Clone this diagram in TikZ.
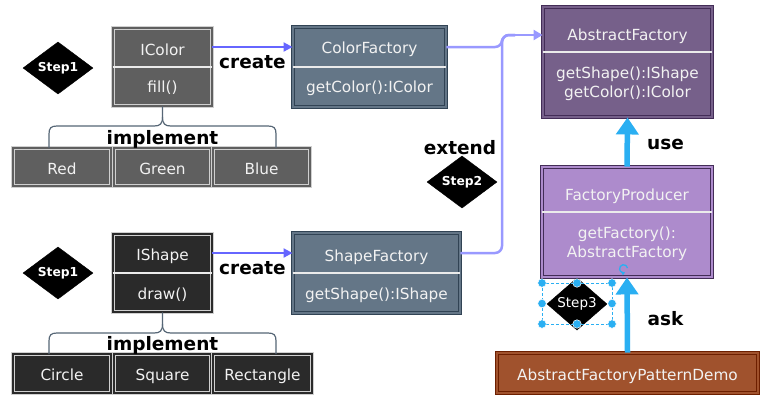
\documentclass[tikz,border=0pt]{standalone}
\usepackage{fontspec}
\setmainfont{DejaVu Sans}
\usetikzlibrary{shapes.geometric,arrows.meta}
\definecolor{grayfill}{HTML}{5F5F5F}
\definecolor{blackfill}{HTML}{2A2A2A}
\definecolor{lightborder}{HTML}{D0D0D0}
\definecolor{slatefill}{HTML}{647687}
\definecolor{slateborder}{HTML}{314354}
\definecolor{purplefill}{HTML}{76608A}
\definecolor{purpleborder}{HTML}{432D57}
\definecolor{lilacfill}{HTML}{AD8BCC}
\definecolor{siennafill}{HTML}{A0522D}
\definecolor{siennaborder}{HTML}{6D1F00}
\definecolor{createblue}{HTML}{6666FF}
\definecolor{extendblue}{HTML}{9999FF}
\definecolor{skyblue}{HTML}{2AAFF2}
\definecolor{bracecol}{HTML}{566676}
\definecolor{boxtext}{HTML}{F2F2F2}
\begin{document}
\begin{tikzpicture}[x=1pt,y=-1pt,
  cls/.style 2 args={rectangle, fill=#1, draw=#2, double=#1, double distance=1.6pt, line width=0.9pt, inner sep=0pt},
  ctext/.style={text=boxtext, font=\fontsize{15.3}{19}\selectfont, inner sep=0pt, anchor=base},
  lbl/.style={text=black, font=\fontsize{18.5}{22}\selectfont\bfseries, inner sep=0pt, anchor=base},
  stepd/.style={diamond, fill=black, draw=black, inner sep=0pt, text=white},
  divline/.style={draw=white!92!black, line width=1.4pt},
  createarrow/.style={draw=createblue, line width=2pt, -{Triangle[length=9pt,width=9pt]}},
  extendarrow/.style={draw=extendblue, line width=2.5pt, rounded corners=7pt},
  bigarrow/.style={draw=skyblue, line width=5.5pt, -{Triangle[length=17pt,width=22pt]}},
  bracepath/.style={draw=bracecol, line width=1.2pt},
  handle/.style={circle, fill=skyblue, draw=white, line width=0.5pt, minimum size=8.5pt, inner sep=0pt}
]
\useasboundingbox (0,0) rectangle (775,408);
\fill[white] (0,0) rectangle (775,408);

% ---------- IColor group ----------
\node[cls={grayfill}{lightborder}, minimum width=99pt, minimum height=78pt] (icolor) at (162.5,67) {};
\draw[divline] (icolor.west) -- (icolor.east);
\node[ctext] (icolorT) at (162.5,55) {IColor};
\node[ctext] (icolorM) at (162.5,92) {fill()};

\node[cls={grayfill}{lightborder}, minimum width=98pt, minimum height=38pt] (red) at (62,167) {};
\node[ctext] (redT) at (62,174) {Red};
\node[cls={grayfill}{lightborder}, minimum width=97pt, minimum height=38pt] (green) at (162.5,167) {};
\node[ctext] (greenT) at (162.5,174) {Green};
\node[cls={grayfill}{lightborder}, minimum width=97pt, minimum height=38pt] (blue) at (261.5,167) {};
\node[ctext] (blueT) at (261.5,174) {Blue};

\coordinate (bl1) at (49,148);
\coordinate (br1) at (276,148);
\draw[bracepath] (icolor.south) -- (162.5,117) .. controls (162.5,124) and (160,126) .. (154,126) -- (57,126) .. controls (51,126) and (49,128) .. (49,134) -- (bl1);
\draw[bracepath] (162.5,117) .. controls (162.5,124) and (165,126) .. (171,126) -- (268,126) .. controls (274,126) and (276,128) .. (276,134) -- (br1);
\node[lbl] (impl1) at (162.5,144) {implement};

\node[stepd, minimum width=70pt, minimum height=40pt] (step1a) at (58,68) {\fontsize{12.3}{14}\selectfont\bfseries Step1};

% ---------- IShape group ----------
\node[cls={blackfill}{lightborder}, minimum width=99pt, minimum height=78pt] (ishape) at (162.5,273) {};
\draw[divline] (ishape.west) -- (ishape.east);
\node[ctext] (ishapeT) at (162.5,260.5) {IShape};
\node[ctext] (ishapeM) at (162.5,299) {draw()};

\node[cls={blackfill}{lightborder}, minimum width=98pt, minimum height=39pt] (circle) at (62,373.5) {};
\node[ctext] (circleT) at (62,380) {Circle};
\node[cls={blackfill}{lightborder}, minimum width=97pt, minimum height=39pt] (square) at (162.5,373.5) {};
\node[ctext] (squareT) at (162.5,380) {Square};
\node[cls={blackfill}{lightborder}, minimum width=99pt, minimum height=39pt] (rectangle) at (262.5,373.5) {};
\node[ctext] (rectangleT) at (262.5,380) {Rectangle};

\coordinate (bl2) at (49,354);
\coordinate (br2) at (276,354);
\draw[bracepath] (ishape.south) -- (162.5,324) .. controls (162.5,331) and (160,333) .. (154,333) -- (57,333) .. controls (51,333) and (49,335) .. (49,341) -- (bl2);
\draw[bracepath] (162.5,324) .. controls (162.5,331) and (165,333) .. (171,333) -- (268,333) .. controls (274,333) and (276,335) .. (276,341) -- (br2);
\node[lbl] (impl2) at (162.5,350) {implement};

\node[stepd, minimum width=70pt, minimum height=40pt] (step1b) at (58,273) {\fontsize{12.3}{14}\selectfont\bfseries Step1};

% ---------- Factories ----------
\node[cls={slatefill}{slateborder}, minimum width=153pt, minimum height=80pt] (colorfactory) at (369.5,67) {};
\draw[divline] (colorfactory.west) -- (colorfactory.east);
\node[ctext] (cfT) at (369.5,53.5) {ColorFactory};
\node[ctext] (cfM) at (369.5,92.5) {getColor():IColor};

\node[cls={slatefill}{slateborder}, minimum width=167pt, minimum height=80pt] (shapefactory) at (376.5,273) {};
\draw[divline] (shapefactory.west) -- (shapefactory.east);
\node[ctext] (sfT) at (376.5,261.5) {ShapeFactory};
\node[ctext] (sfM) at (376.5,299) {getShape():IShape};

\draw[createarrow] (icolor.east |- 0,47) -- (colorfactory.west |- 0,47);
\draw[createarrow] (ishape.east |- 0,253) -- (shapefactory.west |- 0,253);
\node[lbl] (create1) at (252.5,68.5) {create};
\node[lbl] (create2) at (252.5,274) {create};

% ---------- AbstractFactory ----------
\node[cls={purplefill}{purpleborder}, minimum width=169pt, minimum height=110pt] (abstractfactory) at (627.5,62) {};
\draw[divline] (abstractfactory.west |- 0,52) -- (abstractfactory.east |- 0,52);
\node[ctext] (afT) at (627.5,40.5) {AbstractFactory};
\node[ctext] (afM1) at (627.5,78) {getShape():IShape};
\node[ctext] (afM2) at (627.5,97) {getColor():IColor};

\coordinate (jx) at (502,35);
\draw[extendarrow] (colorfactory.east |- 0,47) -- (502,47) -- (jx) -- (515,35);
\draw[extendarrow] (shapefactory.east |- 0,253) -- (502,253) -- (jx) -- (515,35);
\draw[draw=extendblue, line width=2.5pt, -{Triangle[length=9pt,width=10pt]}] (512,35) -- (abstractfactory.west |- jx);
\node[lbl] (extend) at (460,154.5) {extend};
\node[stepd, minimum width=70pt, minimum height=40pt] (step2) at (462,182) {\fontsize{12.3}{14}\selectfont\bfseries Step2};

% ---------- FactoryProducer ----------
\node[cls={lilacfill}{purpleborder}, minimum width=170pt, minimum height=110pt] (factoryproducer) at (627,222) {};
\draw[divline] (factoryproducer.west |- 0,212) -- (factoryproducer.east |- 0,212);
\node[ctext] (fpT) at (627,200.5) {FactoryProducer};
\node[ctext] (fpM1) at (627,238) {getFactory():};
\node[ctext] (fpM2) at (627,257) {AbstractFactory};

\draw[bigarrow] (factoryproducer.north) -- (abstractfactory.south);
\node[lbl] (use) at (665.5,149) {use};

% ---------- Demo ----------
\node[cls={siennafill}{siennaborder}, minimum width=261pt, minimum height=40pt] (demo) at (627.5,373) {};
\node[ctext] (demoT) at (627.5,380) {AbstractFactoryPatternDemo};
\draw[bigarrow] (demo.north) -- (factoryproducer.south);
\node[lbl] (ask) at (665.5,325) {ask};

% ---------- Step3 with selection ----------
\node[stepd, minimum width=60pt, minimum height=36pt] (step3) at (577,304) {\fontsize{13.5}{16}\selectfont Step3};
\draw[skyblue, line width=0.8pt, dash pattern=on 3pt off 2pt] (542,283) rectangle (612,324);
\foreach \hx/\hy in {542/283,577/283,612/283,542/303.5,612/303.5,542/324,577/324,612/324}
  \node[handle] at (\hx,\hy) {};
\draw[skyblue, line width=1.3pt, -{Triangle[length=3pt,width=4pt]}] (627.5,268) arc[start angle=10, end angle=290, radius=4pt];
\end{tikzpicture}
\end{document}
